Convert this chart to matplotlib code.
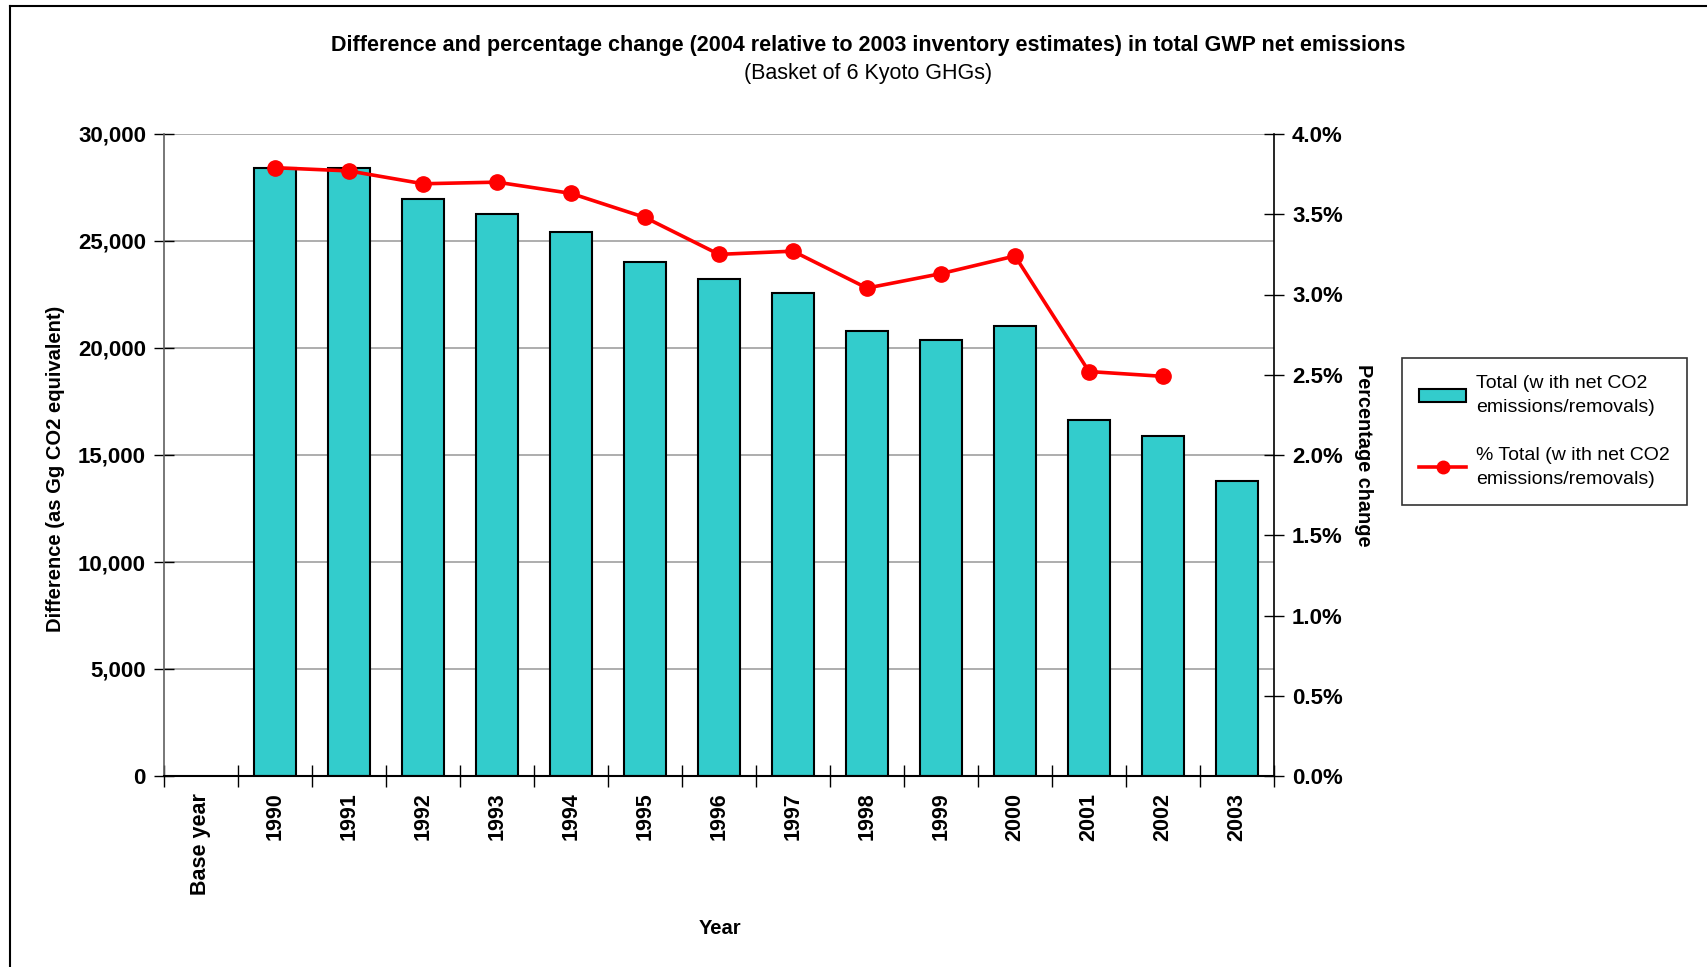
import numpy as np
import matplotlib
matplotlib.use("Agg")
import matplotlib.pyplot as plt
from matplotlib.lines import Line2D
from matplotlib.patches import Patch
from matplotlib.ticker import FuncFormatter

categories = ["Base year", "1990", "1991", "1992", "1993", "1994", "1995", "1996",
              "1997", "1998", "1999", "2000", "2001", "2002", "2003"]
difference_gg = [np.nan, 28390, 28400, 26960, 26280, 25430, 24010, 23240,
                 22590, 20800, 20380, 21030, 16650, 15910, 13800]
pct_change = [np.nan, 3.79, 3.77, 3.69, 3.70, 3.63, 3.48, 3.25,
              3.27, 3.04, 3.13, 3.24, 2.52, 2.49, np.nan]
left_ticks = [0, 5000, 10000, 15000, 20000, 25000, 30000]
right_ticks = [0.0, 0.5, 1.0, 1.5, 2.0, 2.5, 3.0, 3.5, 4.0]

title = "Difference and percentage change (2004 relative to 2003 inventory estimates) in total GWP net emissions"
subtitle = "(Basket of 6 Kyoto GHGs)"
bar_label = "Total (w ith net CO2\nemissions/removals)"
line_label = "% Total (w ith net CO2\nemissions/removals)"

plt.rcParams['font.family'] = ['Liberation Sans', 'DejaVu Sans']

W, H = 1708, 967
fig = plt.figure(figsize=(W / 100, H / 100), dpi=100)
L, R, T, B = 164, 1274, 134, 776
ax = fig.add_axes([L / W, 1 - B / H, (R - L) / W, (B - T) / H])

x = np.arange(len(categories))
bar_color = '#33CCCC'
ax.bar(x, np.array(difference_gg, dtype=float), width=0.56, color=bar_color,
       edgecolor='black', linewidth=1.5, zorder=2)
ax.set_xlim(-0.5, len(categories) - 0.5)
ax.set_ylim(0, 30000)
ax.set_yticks(left_ticks)
ax.yaxis.set_major_formatter(FuncFormatter(lambda v, p: f"{int(v):,}"))
ax.grid(axis='y', color='#a0a0a0', linewidth=1.2, zorder=0)
ax.set_axisbelow(True)
for s in ['top', 'right']:
    ax.spines[s].set_visible(False)
ax.spines['left'].set_color('#606060')
ax.spines['left'].set_linewidth(1.2)
ax.spines['bottom'].set_color('black')
ax.spines['bottom'].set_linewidth(1.5)

ax.set_xticks(x)
ax.set_xticklabels(categories, rotation=90, fontweight='bold', fontsize=15.5)
ax.tick_params(axis='x', which='major', length=0, pad=12)
ax.set_xticks(np.arange(-0.5, len(categories), 1), minor=True)
ax.tick_params(axis='x', which='minor', direction='inout', length=16, width=1, color='black')
ax.tick_params(axis='y', direction='inout', length=14, width=1, labelsize=16, pad=6, color='black')
for lab in ax.get_yticklabels():
    lab.set_fontweight('bold')

ax2 = ax.twinx()
ax2.plot(x, np.array(pct_change, dtype=float), color='#FF0000', linewidth=2.6,
         marker='o', markersize=11, zorder=3)
ax2.set_ylim(0, 4.0)
ax2.set_yticks(right_ticks)
ax2.yaxis.set_major_formatter(FuncFormatter(lambda v, p: f"{v:.1f}%"))
for s in ['top', 'left', 'bottom']:
    ax2.spines[s].set_visible(False)
ax2.spines['right'].set_color('black')
ax2.spines['right'].set_linewidth(1.2)
ax2.tick_params(axis='y', direction='inout', length=14, width=1, labelsize=16, pad=6, color='black')
for lab in ax2.get_yticklabels():
    lab.set_fontweight('bold')

fig.text(868 / W, 1 - 45 / H, title, ha='center', va='center', fontsize=15.5, fontweight='bold')
fig.text(868 / W, 1 - 73 / H, subtitle, ha='center', va='center', fontsize=15.5)
fig.text(56 / W, 1 - 469 / H, "Difference (as Gg CO2 equivalent)", rotation=90,
         ha='center', va='center', fontsize=14.5, fontweight='bold')
fig.text(1364 / W, 1 - 455 / H, "Percentage change", rotation=270,
         ha='center', va='center', fontsize=14.3, fontweight='bold')
fig.text(720 / W, 1 - 928 / H, "Year", ha='center', va='center', fontsize=14.5, fontweight='bold')

handles = [Patch(facecolor=bar_color, edgecolor='black', linewidth=1.5, label=bar_label),
           Line2D([], [], color='#FF0000', linewidth=2.6, marker='o', markersize=9, label=line_label)]
leg = fig.legend(handles=handles, loc='upper left', bbox_to_anchor=(1402 / W, 1 - 358 / H),
                 frameon=True, fancybox=False, edgecolor='black', fontsize=14,
                 handlelength=2.4, labelspacing=1.6, borderpad=0.9, handletextpad=0.5,
                 borderaxespad=0)
leg.get_frame().set_linewidth(1.2)
for t in leg.get_texts():
    t.set_linespacing(1.5)

fig.add_artist(Line2D([10 / W, 10 / W], [0, 1 - 6 / H], transform=fig.transFigure, color='black', linewidth=1.5))
fig.add_artist(Line2D([10 / W, 1], [1 - 6 / H, 1 - 6 / H], transform=fig.transFigure, color='black', linewidth=1.5))

fig.savefig("out.png", dpi=100)
